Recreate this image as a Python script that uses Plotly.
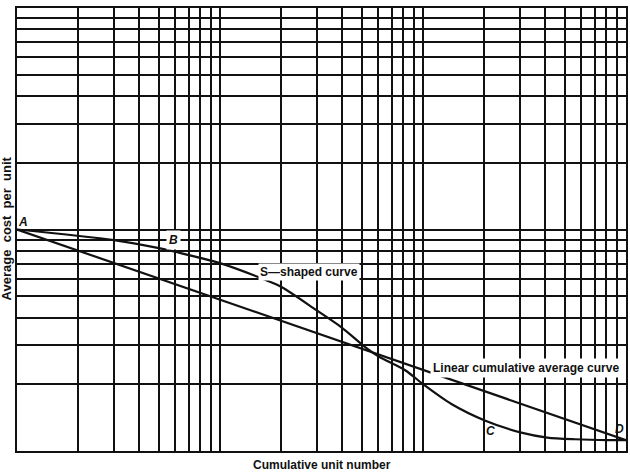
import plotly.graph_objects as go

# Grid (log-log paper) values
x_grid = [m * 10**e for e in range(0, 3) for m in range(1, 10)] + [1000]
y_grid = [m * 10**e for e in range(0, 2) for m in range(1, 10)] + [100]

# S-shaped curve (cumulative unit number, average cost per unit)
s_x = [1, 3.0, 5.0, 6.1, 10, 16.9, 20.2, 30, 39.8, 52.3, 60.5, 82, 101, 138, 203, 305, 409, 561, 815, 1000]
s_y = [10, 8.96, 8.24, 7.91, 7.05, 5.90, 5.49, 4.31, 3.61, 2.93, 2.67, 2.31, 1.99, 1.63, 1.37, 1.21, 1.15, 1.13, 1.12, 1.12]

# Linear cumulative average curve
lin_x = [1, 1000]
lin_y = [10, 1.12]

fig = go.Figure()
fig.add_trace(go.Scatter(x=lin_x, y=lin_y, mode="lines",
                         line=dict(color="#111", width=2.2), showlegend=False))
fig.add_trace(go.Scatter(x=s_x, y=s_y, mode="lines",
                         line=dict(color="#111", width=2.2, shape="spline", smoothing=0.8),
                         showlegend=False))

font = dict(family="Liberation Sans, Arial", size=12, color="#111")
lab = dict(family="Liberation Sans, Arial", size=12, color="#111")

ann = [
    dict(x=0.0, y=1.0, text="<b><i>A</i></b>", xshift=6, yshift=8, font=lab),
    dict(x=0.771, y=0.952, text="<b><i>B</i></b>", font=lab, bgcolor="white", borderpad=2),
    dict(x=1.438, y=0.81, text="<b>S—shaped curve</b>", font=font, bgcolor="white", borderpad=1),
    dict(x=2.506, y=0.376, text="<b>Linear cumulative average curve</b>", font=font, bgcolor="white", borderpad=2),
    dict(x=2.332, y=0.09, text="<b><i>C</i></b>", font=lab),
    dict(x=2.97, y=0.10, text="<b><i>D</i></b>", font=lab),
]
annotations = []
for a in ann:
    d = dict(xref="x", yref="y", showarrow=False)
    d.update(a)
    annotations.append(d)

annotations.append(dict(xref="paper", yref="paper", x=0.5, y=0, yshift=-14,
                        xanchor="center", yanchor="middle",
                        text="<b>Cumulative unit number</b>", showarrow=False, font=font))
annotations.append(dict(xref="paper", yref="y", x=0, xshift=-11, y=1.005,
                        xanchor="center", yanchor="middle",
                        text="<b>Average  cost  per  unit</b>", textangle=-90,
                        showarrow=False, font=dict(font, size=13)))

axis_common = dict(type="log", showticklabels=False, ticks="", showgrid=True,
                   gridcolor="#111", gridwidth=1.8, zeroline=False,
                   showline=True, linecolor="#111", linewidth=2, mirror=True,
                   tickmode="array")

fig.update_layout(
    width=630, height=475,
    margin=dict(l=17, r=2, t=8, b=24),
    paper_bgcolor="white", plot_bgcolor="white",
    xaxis=dict(axis_common, range=[0, 3], tickvals=x_grid),
    yaxis=dict(axis_common, range=[0, 2], tickvals=y_grid),
    annotations=annotations,
)

fig.write_html("out.html")
